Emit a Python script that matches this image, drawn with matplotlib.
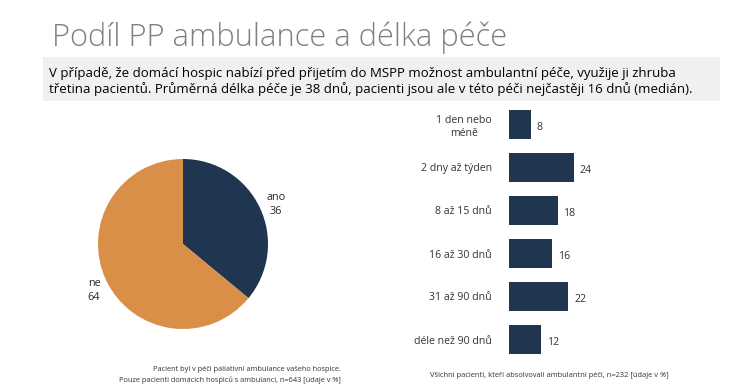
import matplotlib.pyplot as plt
from matplotlib.patches import Rectangle

plt.rcParams["font.family"] = ["Open Sans", "DejaVu Sans"]

W, H = 746, 392

# data
pie_labels = ["ano", "ne"]
pie_values = [36, 64]
pie_colors = ["#203550", "#d98f48"]

bar_labels = ["1 den nebo\nméně", "2 dny až týden", "8 až 15 dnů",
              "16 až 30 dnů", "31 až 90 dnů", "déle než 90 dnů"]
bar_values = [8, 24, 18, 16, 22, 12]
bar_color = "#203550"


def fx(px):
    return px / W


def fy(px):
    return 1 - px / H


fig = plt.figure(figsize=(W / 100, H / 100), dpi=100)

# title
fig.text(fx(52), fy(46), "Podíl PP ambulance a délka péče", fontsize=22.2,
         color="#7f7f7f", fontweight="light", va="baseline")

# grey box with description
fig.patches.append(Rectangle((fx(43), fy(101)), fx(677), (101 - 57) / H,
                             transform=fig.transFigure, facecolor="#f0f0f0",
                             edgecolor="none"))
fig.text(fx(49), fy(77), "V případě, že domácí hospic nabízí před přijetím do MSPP "
         "možnost ambulantní péče, využije ji zhruba", fontsize=9.55, va="baseline")
fig.text(fx(49), fy(93), "třetina pacientů. Průměrná délka péče je 38 dnů, pacienti "
         "jsou ale v této péči nejčastěji 16 dnů (medián).", fontsize=9.55, va="baseline")

# pie
ax1 = fig.add_axes([fx(98), fy(329), 170 / W, 170 / H])
ax1.pie(pie_values, colors=pie_colors, startangle=90, counterclock=False,
        wedgeprops=dict(linewidth=0))
ax1.set_xlim(-1, 1)
ax1.set_ylim(-1, 1)
ax1.set_aspect("equal")
ax1.axis("off")
ax1.text(1.09, 0.46, f"{pie_labels[0]}\n{pie_values[0]}", fontsize=7.8,
         ha="center", va="center", linespacing=1.4, multialignment="center",
         color="#262626")
ax1.text(-1.12, -0.55, f"{pie_labels[1]}\n{pie_values[1]}", fontsize=7.8,
         ha="left", va="center", linespacing=1.4, color="#262626")

# bars
ax2 = fig.add_axes([fx(509), fy(361), 140 / W, 258 / H])
ypos = list(range(len(bar_values)))
ax2.barh(ypos, bar_values, height=0.67, color=bar_color)
ax2.set_ylim(5.5, -0.5)
ax2.set_xlim(0, 140 / 2.7)
ax2.set_yticks(ypos)
ax2.set_yticklabels(bar_labels, fontsize=7.6, color="#333333")
for lbl in ax2.get_yticklabels():
    lbl.set_multialignment("center")
ax2.tick_params(axis="y", length=0, pad=12.5)
ax2.set_xticks([])
for s in ax2.spines.values():
    s.set_visible(False)
for y, v in zip(ypos, bar_values):
    ax2.text(v + 2.2, y + 0.08, str(v), fontsize=7.6, va="center", color="#333333")

# footnotes
fig.text(fx(341), fy(371), "Pacient byl v péči paliativní ambulance vašeho hospice.",
         fontsize=5.3, ha="right", va="baseline", color="#333333")
fig.text(fx(341), fy(382), "Pouze pacienti domácích hospiců s ambulancí, n=643 [údaje v %]",
         fontsize=5.3, ha="right", va="baseline", color="#333333")
fig.text(fx(430), fy(377), "Všichni pacienti, kteří absolvovali ambulantní péči, "
         "n=232 [údaje v %]", fontsize=5.4, ha="left", va="baseline", color="#333333")

fig.savefig("out.png", dpi=100)
